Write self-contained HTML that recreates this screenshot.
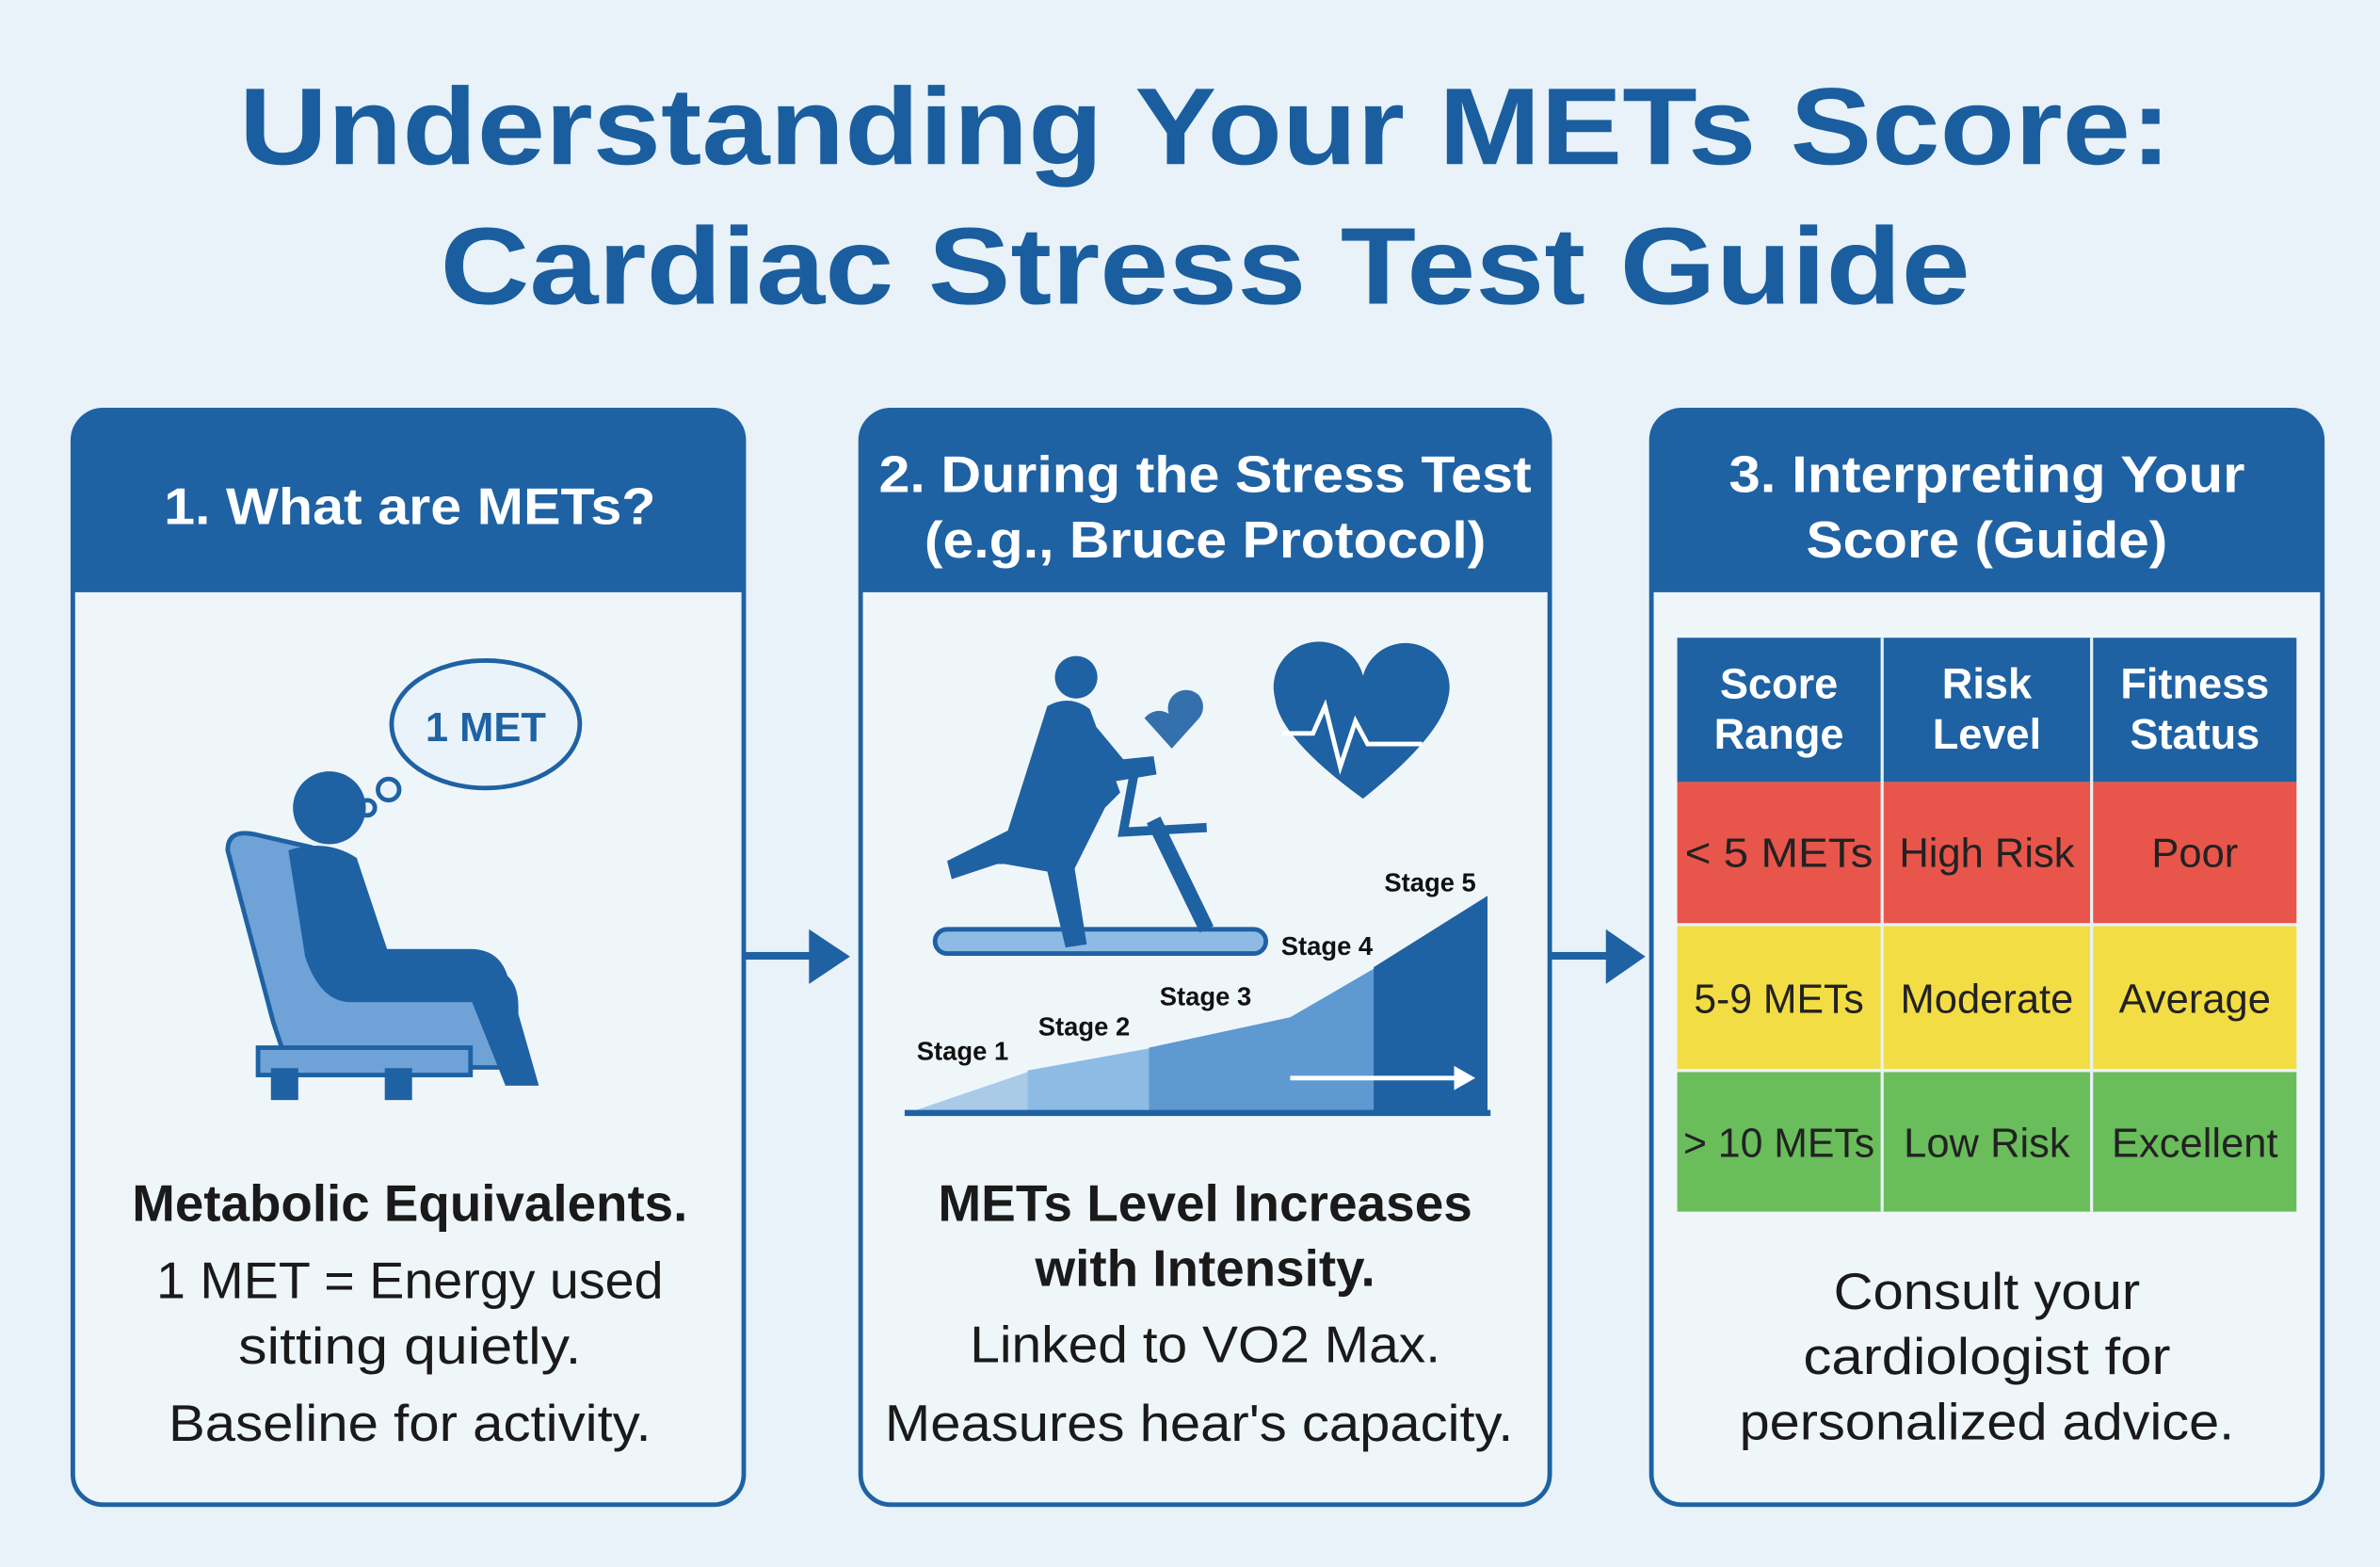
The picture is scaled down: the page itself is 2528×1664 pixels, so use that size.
<!DOCTYPE html>
<html><head><meta charset="utf-8"><style>
html,body{margin:0;padding:0;background:#e8f2f8;}
svg{display:block}
text{font-family:"Liberation Sans",sans-serif;}
</style></head><body>
<svg width="2528" height="1664" viewBox="0 0 1568 1032" xmlns="http://www.w3.org/2000/svg">
<rect width="1568" height="1032" fill="#e8f2f8"/>
<text x="794" y="108" text-anchor="middle" font-size="72" font-weight="bold" fill="#1a5e9f" textLength="1273" lengthAdjust="spacingAndGlyphs">Understanding Your METs Score:</text>
<text x="794" y="200" text-anchor="middle" font-size="72" font-weight="bold" fill="#1a5e9f" textLength="1008" lengthAdjust="spacingAndGlyphs">Cardiac Stress Test Guide</text>

<!-- panels -->
<g stroke="#1f62a3" stroke-width="3">
<rect x="48" y="270" width="442" height="721" rx="20" fill="#eff6fa"/>
<rect x="567" y="270" width="454" height="721" rx="20" fill="#eff6fa"/>
<rect x="1088" y="270" width="442" height="721" rx="20" fill="#eff6fa"/>
</g>
<path d="M48 290 a20 20 0 0 1 20 -20 h402 a20 20 0 0 1 20 20 v100 h-442z" fill="#1f62a3"/>
<path d="M567 290 a20 20 0 0 1 20 -20 h414 a20 20 0 0 1 20 20 v100 h-454z" fill="#1f62a3"/>
<path d="M1088 290 a20 20 0 0 1 20 -20 h402 a20 20 0 0 1 20 20 v100 h-442z" fill="#1f62a3"/>
<g fill="#fff" font-weight="bold" font-size="34" text-anchor="middle">
<text x="270" y="345" textLength="324" lengthAdjust="spacingAndGlyphs">1. What are METs?</text>
<text x="794" y="324" textLength="430" lengthAdjust="spacingAndGlyphs">2. During the Stress Test</text>
<text x="794" y="367" textLength="370" lengthAdjust="spacingAndGlyphs">(e.g., Bruce Protocol)</text>
<text x="1309" y="324" textLength="340" lengthAdjust="spacingAndGlyphs">3. Interpreting Your</text>
<text x="1309" y="367" textLength="238" lengthAdjust="spacingAndGlyphs">Score (Guide)</text>
</g>

<!-- arrows -->
<g fill="#1f62a3">
<rect x="490" y="627" width="46" height="5"/><polygon points="533,612 560,630 533,648"/>
<rect x="1021" y="627" width="42" height="5"/><polygon points="1058,612 1084,630 1058,648"/>
</g>

<!-- panel1 icon -->
<g stroke="#1f62a3" stroke-width="3">
<ellipse cx="320" cy="477" rx="62" ry="42" fill="#eaf3fa"/>
<circle cx="256" cy="520" r="7" fill="#eaf3fa"/><circle cx="242" cy="532" r="5" fill="#eaf3fa"/>
<path d="M150 560 q0 -15 20 -10 l35 8 q10 5 10 20 l0 60 h100 q25 0 25 25 v40 h-150 l-10 -30z" fill="#6fa2d6"/>
<rect x="170" y="690" width="140" height="18" fill="#6fa2d6"/>
<rect x="180" y="705" width="15" height="18" fill="#1f62a3"/><rect x="255" y="705" width="15" height="18" fill="#1f62a3"/>
</g>
<text x="320" y="488" text-anchor="middle" font-size="27" font-weight="bold" fill="#1f62a3">1 MET</text>
<g fill="#1f62a3">
<circle cx="217" cy="532" r="24"/>
<path d="M190 560 q25 -8 45 5 l20 60 h55 q20 0 25 20 l20 70 h-22 l-22 -55 h-80 q-20 0 -30 -30z"/>
</g>

<!-- panel2 icon -->
<path d="M598 733 L680 705 L760 690 L850 670 L905 640 L980 590 V733 Z" fill="#a9cbe8"/>
<path d="M677 705 L760 690 L760 733 L677 733Z" fill="#8dbbe3"/>
<path d="M757 690 L850 670 L905 638 L905 733 L757 733Z" fill="#5e99d2"/>
<path d="M905 637 L980 590 V733 H905Z" fill="#1f62a3"/>
<rect x="596" y="731" width="386" height="4" fill="#1f62a3"/>
<path d="M850 710 H962" stroke="#fff" stroke-width="3"/><polygon points="958,702 972,710 958,718" fill="#fff"/>
<g font-size="17" font-weight="bold" fill="#111">
<text x="604" y="698">Stage 1</text><text x="684" y="682">Stage 2</text><text x="764" y="662">Stage 3</text><text x="844" y="629">Stage 4</text><text x="912" y="587">Stage 5</text>
</g>
<rect x="616" y="612" width="218" height="16" rx="8" fill="#8dbbe3" stroke="#1f62a3" stroke-width="3"/>
<path d="M760 540 L795 612" stroke="#1f62a3" stroke-width="10"/>
<path d="M748 505 L740 548 L795 545" stroke="#1f62a3" stroke-width="6" fill="none"/>
<g fill="#1f62a3">
<circle cx="709" cy="446" r="14"/>
<path d="M690 465 q15 -8 28 2 l20 55 l-10 10 l-20 40 l8 50 l-14 2 l-12 -50 l-28 -5 l-5 0 l-30 10 l-3 -12 l40 -20 z"/>
<path d="M715 470 l25 30 l20 -2 l2 12 l-30 5z"/>
<path d="M770 470 a12 12 0 0 1 20 -12 a12 12 0 0 1 0 15 l-18 20 l-18 -20 a12 12 0 0 1 16 -3z" opacity="0.9"/>
<path d="M898 445 a28 28 0 0 1 56 15 q-5 25 -56 66 q-55 -40 -58 -66 a28 28 0 0 1 58 -15z"/>
</g>
<path d="M845 483 h20 l8 -18 l10 40 l10 -30 l8 15 h36" stroke="#fff" stroke-width="3" fill="none"/>

<!-- table -->
<rect x="1105" y="420" width="408" height="95" fill="#1f62a3"/>
<rect x="1105" y="515" width="408" height="93" fill="#e8554b"/>
<rect x="1105" y="610" width="408" height="94" fill="#f2dd45"/>
<rect x="1105" y="706" width="408" height="92" fill="#6abd5b"/>
<g stroke="#e8f2f8" stroke-width="2">
<line x1="1240" y1="420" x2="1240" y2="798"/><line x1="1378" y1="420" x2="1378" y2="798"/>
<line x1="1105" y1="609" x2="1513" y2="609"/><line x1="1105" y1="705" x2="1513" y2="705"/>
</g>
<g font-size="28" text-anchor="middle" fill="#fff" font-weight="bold">
<text x="1172" y="460">Score</text><text x="1172" y="493">Range</text>
<text x="1309" y="460">Risk</text><text x="1309" y="493">Level</text>
<text x="1446" y="460">Fitness</text><text x="1446" y="493">Status</text>
</g>
<g font-size="27" text-anchor="middle" fill="#222">
<text x="1172" y="571" textLength="124" lengthAdjust="spacingAndGlyphs">&lt; 5 METs</text><text x="1309" y="571">High Risk</text><text x="1446" y="571">Poor</text>
<text x="1172" y="667" textLength="112" lengthAdjust="spacingAndGlyphs">5-9 METs</text><text x="1309" y="667">Moderate</text><text x="1446" y="667">Average</text>
<text x="1172" y="762" textLength="126" lengthAdjust="spacingAndGlyphs">&gt; 10 METs</text><text x="1309" y="762">Low Risk</text><text x="1446" y="762">Excellent</text>
</g>

<!-- bottom texts -->
<g font-size="34" text-anchor="middle" fill="#1a1a1a">
<text x="270" y="804" font-weight="bold" textLength="366" lengthAdjust="spacingAndGlyphs">Metabolic Equivalents.</text>
<text x="270" y="855" textLength="334" lengthAdjust="spacingAndGlyphs">1 MET = Energy used</text>
<text x="270" y="898" textLength="226" lengthAdjust="spacingAndGlyphs">sitting quietly.</text>
<text x="270" y="949" textLength="318" lengthAdjust="spacingAndGlyphs">Baseline for activity.</text>
<text x="794" y="804" font-weight="bold" textLength="352" lengthAdjust="spacingAndGlyphs">METs Level Increases</text>
<text x="794" y="847" font-weight="bold" textLength="224" lengthAdjust="spacingAndGlyphs">with Intensity.</text>
<text x="794" y="897" textLength="310" lengthAdjust="spacingAndGlyphs">Linked to VO2 Max.</text>
<text x="790" y="949" textLength="414" lengthAdjust="spacingAndGlyphs">Measures hear's capacity.</text>
<text x="1309" y="862" textLength="202" lengthAdjust="spacingAndGlyphs">Consult your</text>
<text x="1309" y="905" textLength="242" lengthAdjust="spacingAndGlyphs">cardiologist for</text>
<text x="1309" y="948" textLength="326" lengthAdjust="spacingAndGlyphs">personalized advice.</text>
</g>
</svg>
</body></html>
